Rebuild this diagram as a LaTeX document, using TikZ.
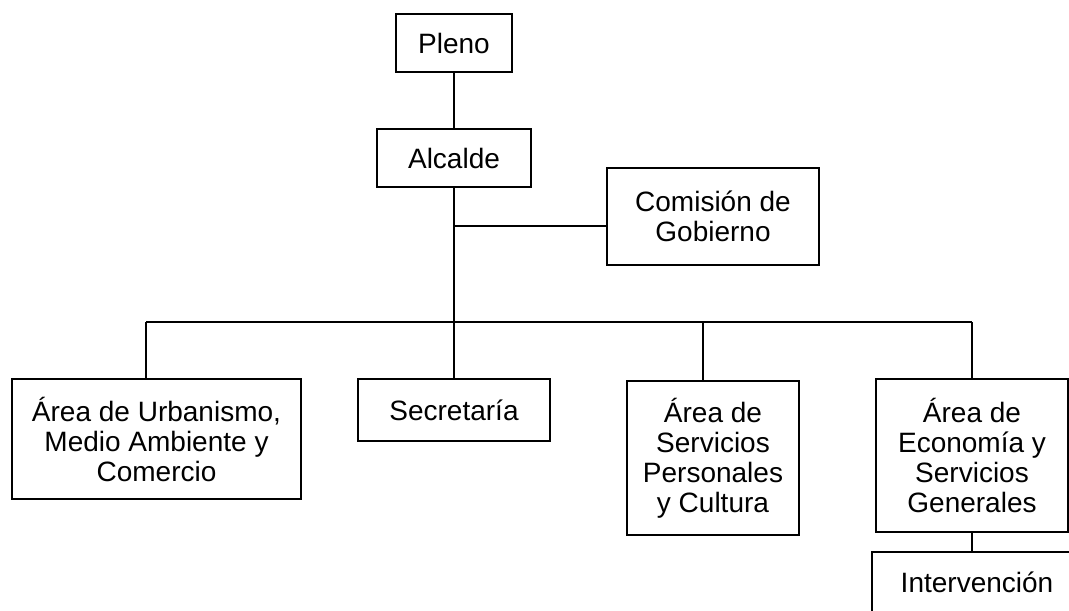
\documentclass[tikz,border=0pt]{standalone}
\usepackage{fontspec}
\setmainfont{Liberation Sans}
\begin{document}
\begin{tikzpicture}[x=0.75pt,y=-0.75pt,
  box/.style={draw,line width=1.1pt,inner sep=0pt,align=center,
    font=\fontsize{21pt}{22.5pt}\selectfont},
  conn/.style={line width=1.1pt}]
\useasboundingbox (0,0) rectangle (1069,610);
\clip (0,0) rectangle (1069,610);
\node[box,minimum width=87pt,minimum height=43.5pt] (pleno) at (454,43) {Pleno};
\node[box,minimum width=115.5pt,minimum height=43.5pt] (alcalde) at (454,158) {Alcalde};
\node[box,minimum width=159pt,minimum height=72.75pt] (comision) at (713,216.5) {Comisión de\\Gobierno};
\node[box,minimum width=216.75pt,minimum height=90pt] (urb) at (156.5,439) {Área de Urbanismo,\\Medio Ambiente y\\Comercio};
\node[box,minimum width=144pt,minimum height=46.5pt] (secre) at (454,410) {Secretaría};
\node[box,minimum width=129pt,minimum height=115.5pt] (pers) at (713,458) {Área de\\Servicios\\Personales\\y Cultura};
\node[box,minimum width=144pt,minimum height=114.75pt] (econ) at (972,455.5) {Área de\\Economía y\\Servicios\\Generales};
\node[box,minimum width=157.5pt,minimum height=45pt] (interv) at (977,582) {Intervención};
\coordinate (j1) at (454,226);
\coordinate (busL) at (146,322);
\coordinate (busP) at (703,322);
\coordinate (busR) at (972,322);
\draw[conn] (pleno.south) -- (alcalde.north);
\draw[conn] (alcalde.south) -- (secre.north);
\draw[conn] (j1) -- (comision.west |- j1);
\draw[conn] (busL) -- (busR);
\draw[conn] (busL) -- (busL |- urb.north);
\draw[conn] (busP) -- (busP |- pers.north);
\draw[conn] (busR) -- (econ.north);
\draw[conn] (econ.south) -- (econ.south |- interv.north);
\end{tikzpicture}
\end{document}
